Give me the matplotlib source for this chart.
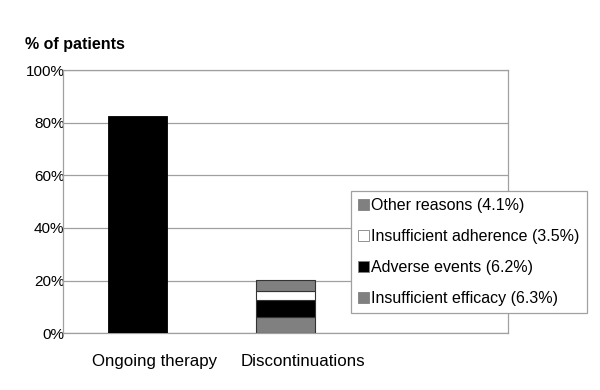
import matplotlib
matplotlib.use("Agg")
import matplotlib.pyplot as plt
import matplotlib.transforms as mtransforms
from matplotlib.patches import Patch

plt.rcParams['font.family'] = ['Liberation Sans', 'DejaVu Sans']

categories = ["Ongoing therapy", "Discontinuations", ""]
ongoing = 82.5
reasons = ["Insufficient efficacy (6.3%)", "Adverse events (6.2%)",
           "Insufficient adherence (3.5%)", "Other reasons (4.1%)"]
reason_vals = [6.3, 6.2, 3.5, 4.1]
reason_colors = ["#808080", "#000000", "#ffffff", "#808080"]
yticks = [0, 20, 40, 60, 80, 100]

fig = plt.figure(figsize=(6, 3.9), dpi=100)
ax = fig.add_axes([0.105, 0.1454, 0.742, 0.675])

ax.bar(0, ongoing, width=0.4, color="black", edgecolor="black", linewidth=0.6, zorder=3)
bottom = 0
for val, col in zip(reason_vals, reason_colors):
    ax.bar(1, val, width=0.4, bottom=bottom, color=col, edgecolor="#333333",
           linewidth=0.8, zorder=3)
    bottom += val

ax.set_xlim(-0.5, 2.5)
ax.set_ylim(0, 100)
ax.set_yticks(yticks)
ax.set_yticklabels([f"{t}%" for t in yticks], fontsize=11)
ax.set_xticks(range(len(categories)))
ax.set_xticklabels(categories, fontsize=12.2)
ax.tick_params(axis="y", length=0, pad=-1)
ax.tick_params(axis="x", length=0, pad=15)
# category labels sit a little right of the bars, as in the original
shift = mtransforms.ScaledTranslation(17 / 100, 0, fig.dpi_scale_trans)
for lab in ax.get_xticklabels():
    lab.set_transform(lab.get_transform() + shift)

ax.grid(axis="y", color="#a0a0a0", linewidth=0.9, zorder=0)
for s in ax.spines.values():
    s.set_color("#a0a0a0")
    s.set_linewidth(0.9)

fig.text(25 / 600, 1 - 45 / 390, "% of patients", fontsize=11.5, fontweight="bold",
         va="center", ha="left")

handles = [Patch(facecolor=c, edgecolor="#808080", linewidth=0.6)
           for c in reason_colors]
leg = ax.legend(handles[::-1], reasons[::-1], loc="upper left",
                bbox_to_anchor=(350.7 / 600, 1 - 191 / 390),
                bbox_transform=fig.transFigure, fontsize=11.5, frameon=True,
                fancybox=False, framealpha=1, edgecolor="#a0a0a0",
                handlelength=0.7, handleheight=0.7, handletextpad=0.15,
                labelspacing=1.0, borderpad=0.45, borderaxespad=0)
leg.get_frame().set_linewidth(0.9)
leg.set_zorder(5)

fig.savefig("out.png", dpi=100)
